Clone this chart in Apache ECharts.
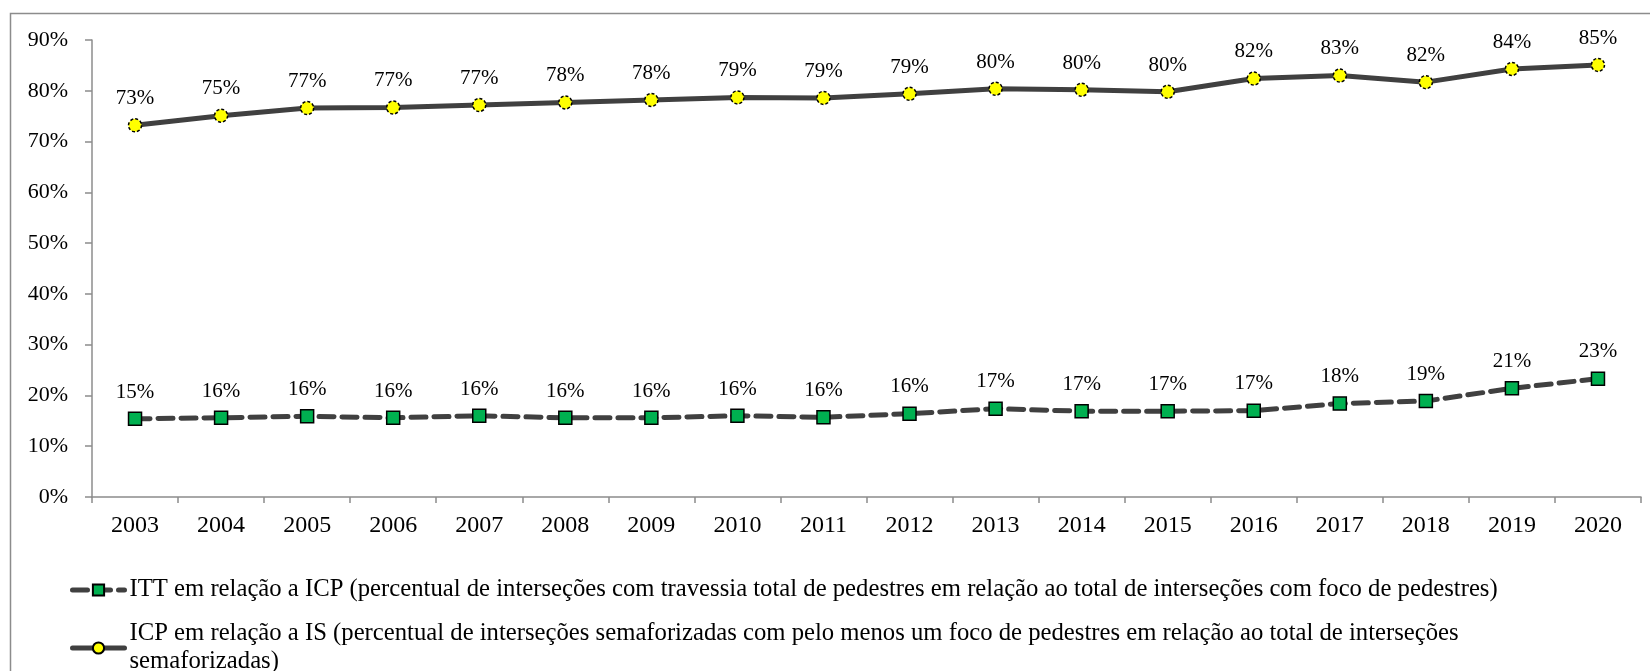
<!DOCTYPE html>
<html>
<head>
<meta charset="utf-8">
<script src="https://cdn.jsdelivr.net/npm/echarts@6/dist/echarts.min.js"></script>
<style>
  html, body { margin: 0; padding: 0; background: #fff; }
  #chart { width: 1650px; height: 671px; }
</style>
</head>
<body>
<div id="chart"></div>
<script>
// Anos da série histórica
const anos = ['2003','2004','2005','2006','2007','2008','2009','2010','2011',
              '2012','2013','2014','2015','2016','2017','2018','2019','2020'];

// ITT em relação a ICP (%)
const ittIcp = [15.4, 15.6, 15.9, 15.6, 16.0, 15.6, 15.6, 16.0, 15.7,
                16.4, 17.4, 16.9, 16.9, 17.0, 18.4, 18.9, 21.4, 23.3];

// ICP em relação a IS (%)
const icpIs = [73.2, 75.1, 76.6, 76.7, 77.2, 77.7, 78.2, 78.7, 78.6,
               79.4, 80.4, 80.2, 79.8, 82.4, 83.0, 81.7, 84.3, 85.1];

const nomeItt = 'ITT em relação a ICP (percentual de interseções com travessia total de pedestres em relação ao total de interseções com foco de pedestres)';
const nomeIcp = 'ICP em relação a IS (percentual de interseções semaforizadas com pelo menos um foco de pedestres em relação ao total de interseções semaforizadas)';

const fonte = '"Liberation Serif", "Times New Roman", serif';
const eixoCor = '#8c8c8c';

const chart = echarts.init(document.getElementById('chart'));

const rotulo = {
  show: true,
  position: 'top',
  distance: 9,
  color: '#000',
  fontFamily: fonte,
  fontSize: 21,
  formatter: p => Math.round(p.value) + '%'
};

chart.setOption({
  animation: false,
  backgroundColor: '#fff',
  graphic: [{
    type: 'rect',
    shape: { x: 10.5, y: 13.5, width: 1700, height: 700 },
    style: { fill: 'none', stroke: eixoCor, lineWidth: 1.5 },
    silent: true
  }],
  grid: { left: 92, right: 9, top: 40, bottom: 174 },
  legend: {
    orient: 'vertical',
    left: 70,
    top: 576,
    height: 120,
    padding: 0,
    itemWidth: 52,
    itemHeight: 14,
    itemGap: 16,
    lineStyle: { width: 5 },
    textStyle: {
      fontFamily: fonte,
      fontSize: 24.7,
      color: '#000',
      lineHeight: 28
    },
    // a segunda legenda quebra antes da última palavra
    formatter: nome => nome === nomeIcp
      ? nome.replace(' semaforizadas)', '\nsemaforizadas)')
      : nome,
    data: [nomeItt, nomeIcp]
  },
  xAxis: {
    type: 'category',
    data: anos,
    boundaryGap: true,
    axisLine: { lineStyle: { color: eixoCor, width: 1.5 } },
    axisTick: { show: true, length: 6, alignWithLabel: false, lineStyle: { color: eixoCor, width: 1.5 } },
    axisLabel: { color: '#000', fontFamily: fonte, fontSize: 24, margin: 17 },
    splitLine: { show: false }
  },
  yAxis: {
    type: 'value',
    min: 0,
    max: 90,
    interval: 10,
    axisLine: { show: true, lineStyle: { color: eixoCor, width: 1.5 } },
    axisTick: { show: true, length: 7, lineStyle: { color: eixoCor, width: 1.5 } },
    axisLabel: { color: '#000', fontFamily: fonte, fontSize: 22, margin: 24, formatter: '{value}%' },
    splitLine: { show: false }
  },
  series: [
    {
      name: nomeItt,
      type: 'line',
      data: ittIcp,
      symbol: 'rect',
      symbolSize: 13,
      lineStyle: { color: '#404040', width: 5, type: [15, 8], cap: 'round' },
      itemStyle: { color: '#00b050', borderColor: '#000', borderWidth: 1.5 },
      label: rotulo,
      z: 3
    },
    {
      name: nomeIcp,
      type: 'line',
      data: icpIs,
      symbol: 'circle',
      symbolSize: 13,
      lineStyle: { color: '#404040', width: 5, cap: 'round' },
      itemStyle: { color: '#ffff00', borderColor: '#000', borderWidth: 1.5, borderType: [3, 2] },
      label: rotulo,
      z: 3
    }
  ]
});
</script>
</body>
</html>
